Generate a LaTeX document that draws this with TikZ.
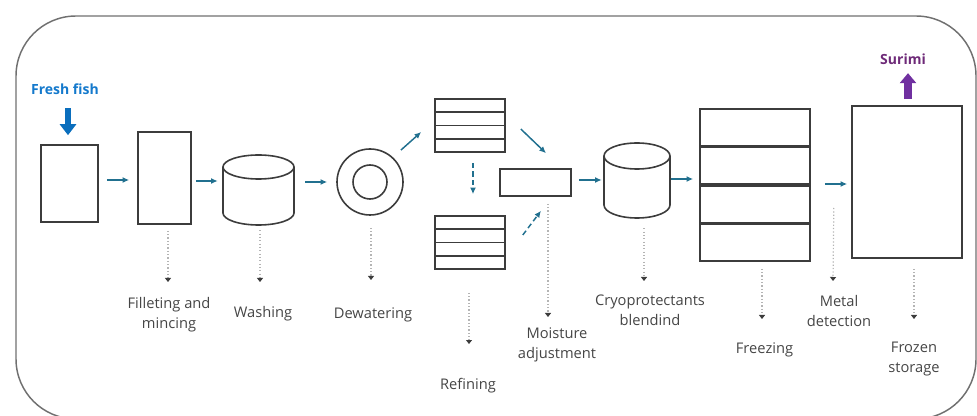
\documentclass[tikz,border=0pt]{standalone}
\usepackage{fontspec}
\setmainfont{Open Sans}
\usepackage{tikz}
\usetikzlibrary{shapes.geometric, arrows.meta, positioning, calc}
\definecolor{inkgray}{HTML}{3C3C3C}
\definecolor{framegray}{HTML}{707070}
\definecolor{flowteal}{HTML}{21708F}
\definecolor{dotgray}{HTML}{B4B4B4}
\definecolor{labelgray}{HTML}{454545}
\definecolor{fishblue}{HTML}{1479CC}
\definecolor{feedblue}{HTML}{0A6EBD}
\definecolor{surimiplum}{HTML}{6E2A78}
\definecolor{outpurple}{HTML}{7030A0}

\begin{document}
\begin{tikzpicture}[x=0.75pt, y=-0.75pt]
  \useasboundingbox (0,0) rectangle (977,416);

  \tikzset{
    vessel/.style={draw=inkgray, line width=1.2pt, inner sep=0pt},
    drum/.style={inner sep=0pt},
    flow/.style={draw=flowteal, line width=1.1pt, -{Latex[length=5pt,width=4.5pt]}},
    flow dashed/.style={flow, dash pattern=on 4pt off 2.5pt},
    leader/.style={draw=dotgray, line width=0.9pt, dash pattern=on 0.9pt off 1.6pt,
      -{Triangle[length=3pt,width=4.5pt,color=inkgray]}},
    caption/.style={text=labelgray, font=\fontsize{11}{15}\selectfont, align=center,
      inner sep=0pt, anchor=north},
    tag/.style={font=\fontsize{10.5}{12}\selectfont\bfseries, inner sep=0pt}
  }

  % Outer panel
  \draw[framegray, line width=1.1pt, rounded corners=45pt] (16,16) rectangle (976,419);

  % Process equipment, left to right
  \node[vessel, minimum width=42.75pt, minimum height=57.75pt] (fishbox) at (69.5,183.5) {};
  \node[vessel, minimum width=39.75pt, minimum height=69pt] (mincer) at (164.5,178) {};
  \node[drum, minimum width=53.25pt, minimum height=52.5pt] (washer) at (258.5,190) {};
  \node[vessel, circle, minimum size=49.5pt] (dewater) at (370,182) {};
  \node[vessel, circle, minimum size=25.5pt] (dewater core) at (dewater.center) {};

  % Refiner screens - upper and lower
  \foreach \name/\y in {refinertop/125.5, refinerbot/242.5} {
    \node[vessel, minimum width=52.5pt, minimum height=39.75pt] (\name) at (470,\y) {};
    \foreach \k in {1,2,3}
      \draw[inkgray, line width=1.2pt] ($(\name.north west)!\k/4!(\name.south west)$)
        -- ($(\name.north east)!\k/4!(\name.south east)$);
  }

  \node[vessel, minimum width=53.25pt, minimum height=20.25pt] (mixer) at (535.5,182.5) {};
  \node[drum, minimum width=49.5pt, minimum height=56.25pt] (blender) at (637,180.5) {};

  % Tanks: top ellipse, sides, front half of the base
  \foreach \cx/\top/\bot/\rx/\ry in {258.5/155/225/35.5/12, 637/143/218/33/13} {
    \draw[inkgray, line width=1.2pt] (\cx,\top+\ry) ellipse [x radius=\rx, y radius=\ry];
    \draw[inkgray, line width=1.2pt] (\cx-\rx,\top+\ry) -- (\cx-\rx,\bot-\ry)
      arc[start angle=180, end angle=0, x radius=\rx, y radius=\ry] -- (\cx+\rx,\top+\ry);
  }

  % Plate freezer with its shelves
  \node[vessel, minimum width=82.5pt, minimum height=114pt] (freezer) at (755,185) {};
  \foreach \k in {1,2,3}
    \draw[inkgray, line width=2.6pt] ($(freezer.north west)!\k/4!(freezer.south west)$)
      -- ($(freezer.north east)!\k/4!(freezer.south east)$);

  \node[vessel, minimum width=82.5pt, minimum height=114pt] (store) at (907,182) {};

  % In and out
  \node[tag, text=fishblue] (freshfish) at (65,89) {Fresh fish};
  \node[tag, text=surimiplum] (surimi) at (903,59) {Surimi};
  \draw[feedblue, line width=4.5pt, -{Triangle[length=8.25pt,width=12pt]}]
    ([shift={(3,13.5)}]freshfish.south) -- ([shift={(-1.5,-9)}]fishbox.north);
  \draw[outpurple, line width=6pt, -{Triangle[length=7.5pt,width=12pt]}]
    ([shift={(1,-6)}]store.north) -- ([shift={(5,8.5)}]surimi.south);

  % Main flow
  \draw[flow, shorten <=6pt, shorten >=6pt] (fishbox.east |- 0,180) -- (mincer.west |- 0,180);
  \draw[flow, shorten <=3pt, shorten >=3.75pt] (mincer.east |- 0,181) -- (washer.west |- 0,181);
  \draw[flow, shorten <=8.25pt, shorten >=6.75pt] (washer.east |- 0,182) -- (dewater.west |- 0,182);
  \draw[flow] ([shift={(7,-8)}]dewater.45) -- ([shift={(-13,6.5)}]refinertop.west);
  \draw[flow] ([shift={(15,3.5)}]refinertop.east) -- ([shift={(10.5,-15)}]mixer.north);
  \draw[flow dashed] ([shift={(3,10)}]refinertop.south) -- ([shift={(3,-21)}]refinerbot.north);
  \draw[flow dashed] ([shift={(17,-7.5)}]refinerbot.east) -- ([shift={(5.5,14)}]mixer.south);
  \draw[flow, shorten <=5.25pt, shorten >=1.5pt] (mixer.east |- 0,180) -- (blender.west |- 0,180);
  \draw[flow, shorten <=0.75pt, shorten >=4.5pt] (blender.east |- 0,179) -- (freezer.west |- 0,179);
  \draw[flow, shorten <=10.5pt, shorten >=3pt] (freezer.east |- 0,184) -- (store.west |- 0,184);

  % Step names
  \node[caption] (fillet) at (169,297) {Filleting and\\mincing};
  \node[caption] (washing) at (263,306) {Washing};
  \node[caption] (dewatering) at (373,307) {Dewatering};
  \node[caption] (refining) at (468,378) {Refining};
  \node[caption] (moisture) at (557,327) {Moisture\\adjustment};
  \node[caption] (cryo) at (650,295) {Cryoprotectants\\blendind};
  \node[caption] (freezing) at (764.5,342) {Freezing};
  \node[caption] (metal) at (839,295) {Metal\\detection};
  \node[caption] (frozen) at (914,342) {Frozen\\storage};

  % Dotted leaders down to the names
  \draw[leader] ([shift={(3.5,6)}]mincer.south) -- ([shift={(-1,-15)}]fillet.north);
  \draw[leader] ([shift={(1.5,5)}]washer.south) -- ([shift={(-3,-24)}]washing.north);
  \draw[leader] ([shift={(1,12)}]dewater.south) -- ([shift={(-2,-27)}]dewatering.north);
  \draw[leader] ([shift={(-1,23)}]refinerbot.south) -- ([shift={(1,-34)}]refining.north);
  \draw[leader] ([shift={(12.5,7)}]mixer.south) -- ([shift={(-9,-10)}]moisture.north);
  \draw[leader] ([shift={(7,10)}]blender.south) -- ([shift={(-6,-14)}]cryo.north);
  \draw[leader] ([shift={(7,7)}]freezer.south) -- ([shift={(-2.5,-23)}]freezing.north);
  \draw[leader] ([shift={(23,23)}]freezer.east) -- ([shift={(-6,-14)}]metal.north);
  \draw[leader] ([shift={(7,10)}]store.south) -- ([shift={(0,-23)}]frozen.north);
\end{tikzpicture}
\end{document}
